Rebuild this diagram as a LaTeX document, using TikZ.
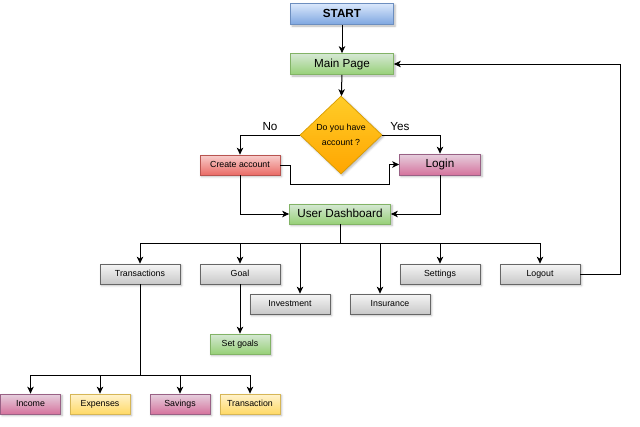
\documentclass[tikz,border=0pt]{standalone}
\usepackage{fontspec}
\setmainfont{Liberation Sans}
\usetikzlibrary{shapes.geometric,arrows.meta,positioning,calc,shadows.blur}

\definecolor{bluetop}{HTML}{DAE8FC}
\definecolor{bluebot}{HTML}{7EA6E0}
\definecolor{blueline}{HTML}{6C8EBF}
\definecolor{greentop}{HTML}{D5E8D4}
\definecolor{greenbot}{HTML}{97D077}
\definecolor{greenline}{HTML}{82B366}
\definecolor{redtop}{HTML}{F8CECC}
\definecolor{redbot}{HTML}{EA6B66}
\definecolor{redline}{HTML}{B85450}
\definecolor{pinktop}{HTML}{E6D0DE}
\definecolor{pinkbot}{HTML}{D5739D}
\definecolor{pinkline}{HTML}{996185}
\definecolor{yellowtop}{HTML}{FFF2CC}
\definecolor{yellowbot}{HTML}{FFD966}
\definecolor{yellowline}{HTML}{D6B656}
\definecolor{graytop}{HTML}{F5F5F5}
\definecolor{graybot}{HTML}{C8C8C8}
\definecolor{grayline}{HTML}{666666}
\definecolor{orangetop}{HTML}{FFCD28}
\definecolor{orangebot}{HTML}{FFA500}
\definecolor{orangeline}{HTML}{D79B00}

\tikzset{
  boxbase/.style={rectangle, inner sep=1pt, line width=0.7pt,
    font=\fontsize{8.8}{10}\selectfont, text height=6.4pt, text depth=1.9pt,
    minimum width=80pt, minimum height=20pt,
    blur shadow={shadow xshift=1.5pt, shadow yshift=-1.5pt, shadow blur steps=4, shadow opacity=30}},
  bigtext/.style={font=\fontsize{11.7}{14}\selectfont, text height=8.5pt, text depth=2.5pt},
  bluebox/.style={boxbase, draw=blueline, top color=bluetop, bottom color=bluebot},
  greenbox/.style={boxbase, draw=greenline, top color=greentop, bottom color=greenbot},
  redbox/.style={boxbase, draw=redline, top color=redtop, bottom color=redbot},
  pinkbox/.style={boxbase, draw=pinkline, top color=pinktop, bottom color=pinkbot},
  yellowbox/.style={boxbase, draw=yellowline, top color=yellowtop, bottom color=yellowbot, minimum width=60pt},
  graybox/.style={boxbase, draw=grayline, top color=graytop, bottom color=graybot},
  decision/.style={diamond, draw=orangeline, line width=0.7pt, top color=orangetop, bottom color=orangebot,
    minimum width=82pt, minimum height=78pt, inner sep=0pt, align=center,
    font=\fontsize{8.8}{15}\selectfont,
    blur shadow={shadow xshift=1.5pt, shadow yshift=-1.5pt, shadow blur steps=4, shadow opacity=30}},
  answer/.style={font=\fontsize{11.7}{14}\selectfont, inner sep=1pt},
  arr/.style={-{Stealth[length=7pt,width=6.5pt,inset=2pt]}, line width=1pt},
  bus/.style={line width=1pt}
}

\begin{document}
\begin{tikzpicture}[x=1pt,y=-1pt]
\useasboundingbox (0,0) rectangle (640,426);

% login part
\node[bluebox, minimum width=103pt, minimum height=21pt, bigtext, font=\bfseries\fontsize{11.7}{14}\selectfont] (start) at (342,14) {START};
\node[greenbox, bigtext, minimum width=103pt, minimum height=21pt] (main) at (342,64) {Main Page};
\node[decision] (ask) at (341,135) {Do you have\\account ?};
\node[answer] (no) at (270,127) {No};
\node[answer] (yes) at (400,127) {Yes};
\node[redbox] (create) at (240,165) {Create account};
\node[pinkbox, bigtext, minimum width=81pt, minimum height=21pt] (login) at (440,164.5) {Login};
\node[greenbox, bigtext, minimum width=101pt] (dash) at (340,214) {User Dashboard};

% dashboard menu
\node[graybox] (trans) at (140,274) {Transactions};
\node[graybox] (goal) at (240,274) {Goal};
\node[graybox] (invest) at (290,304) {Investment};
\node[graybox] (insur) at (390,304) {Insurance};
\node[graybox] (sett) at (440,274) {Settings};
\node[graybox] (logout) at (540,274) {Logout};
\node[greenbox, minimum width=60pt] (setgoal) at (240,344) {Set goals};

% transactions
\node[pinkbox, minimum width=60pt] (income) at (30.5,404) {Income};
\node[yellowbox] (exp) at (100,404) {Expenses};
\node[pinkbox, minimum width=60pt] (sav) at (180,404) {Savings};
\node[yellowbox] (trx) at (250,404) {Transaction};

% connectors
\draw[arr] (start) -- (main);
\draw[arr] (main) -- (ask);
\draw[arr] (ask.west) -| (create);
\draw[arr] (ask.east) -| (login);
\draw[arr] (create.east) -| ++(10,19) -| ([xshift=-10pt]login.west) -- (login.west);
\draw[arr] (create.south) |- (dash.west);
\draw[arr] (login.south) |- (dash.east);

\draw[bus] (dash.south) -- ++(0,19) coordinate (hub);
\draw[bus] (hub -| trans) -- (hub -| logout);
\foreach \n in {trans,goal,sett,logout}
  \draw[arr] (hub -| \n.north) -- (\n.north);
\coordinate (invtop) at ([xshift=10pt]invest.north);
\coordinate (insurtop) at ([xshift=-10pt]insur.north);
\draw[arr] (hub -| invtop) -- (invtop);
\draw[arr] (hub -| insurtop) -- (insurtop);
\draw[arr] (goal) -- (setgoal);
\draw[arr] (logout.east) -- ++(40,0) |- (main.east);

\draw[bus] (trans.south) -- ++(0,91) coordinate (hub2);
\draw[bus] (hub2 -| income) -- (hub2 -| trx);
\foreach \n in {income,exp,sav,trx}
  \draw[arr] (hub2 -| \n.north) -- (\n.north);
\end{tikzpicture}
\end{document}
